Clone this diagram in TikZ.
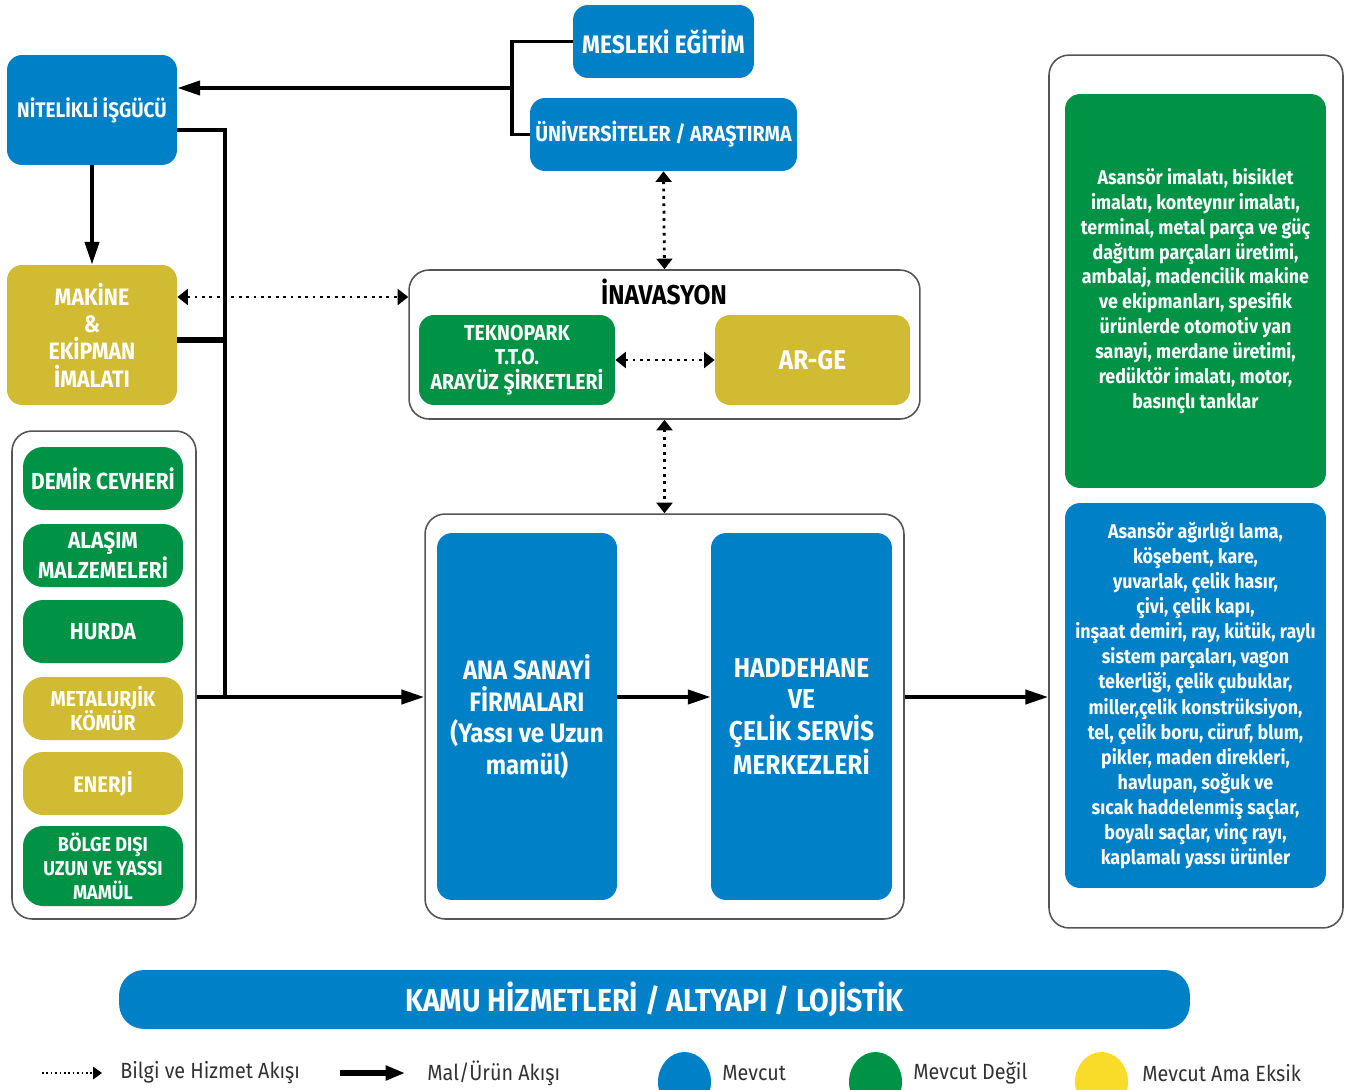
\documentclass[tikz,border=0pt]{standalone}
\usepackage{fontspec}
\setmainfont[FakeStretch=0.9]{Fira Sans}
\usetikzlibrary{arrows.meta,shapes.geometric}

\definecolor{mavi}{RGB}{0,128,198}
\definecolor{yesil}{RGB}{0,146,69}
\definecolor{hardal}{RGB}{209,187,50}
\definecolor{sari}{RGB}{249,220,42}
\definecolor{cerceve}{RGB}{85,85,85}
\definecolor{yazi}{RGB}{50,50,50}

\tikzset{
  kutu/.style={rounded corners=0.3cm, text=white, align=center, inner sep=0pt, font=\bfseries\fontsize{12}{15}\selectfont},
  mavikutu/.style={kutu, fill=mavi},
  yesilkutu/.style={kutu, fill=yesil},
  hardalkutu/.style={kutu, fill=hardal},
  cercevekutu/.style={draw=cerceve, line width=0.9pt, rounded corners=0.4cm, fill=white, inner sep=0pt},
  hap/.style={rounded corners=0.4cm, minimum width=3.2cm, minimum height=1.26cm, font=\bfseries\fontsize{13.2}{14.5}\selectfont},
  akis/.style={line width=2.2pt},
  mal/.style={akis, -{Triangle[length=13pt,width=8pt]}},
  bilgi/.style={line width=1.6pt, dash pattern=on 1.6pt off 2.6pt, {Triangle[length=6pt,width=9pt]}-{Triangle[length=6pt,width=9pt]}},
  lejant/.style={anchor=west, text=yazi, inner sep=0pt, font=\fontsize{12.5}{14}\selectfont},
}

\begin{document}
\begin{tikzpicture}[x=0.02cm, y=-0.02cm]
\useasboundingbox (0,0) rectangle (1346,1089);

% ust sol
\node[mavikutu, minimum width=3.4cm, minimum height=2.2cm] (nitelikli) at (92,110) {N\.{I}TEL\.{I}KL\.{I} \.{I}ŞGÜCÜ};
\node[hardalkutu, minimum width=3.4cm, minimum height=2.8cm, font=\bfseries\fontsize{13.5}{15.6}\selectfont] (makine) at (92,335) {MAK\.{I}NE\\\&\\EK\.{I}PMAN\\\.{I}MALATI};

% egitim
\node[mavikutu, minimum width=3.62cm, minimum height=1.46cm, font=\bfseries\fontsize{14.4}{16}\selectfont] (mesleki) at (663.5,41.5) {MESLEK\.{I} EĞ\.{I}T\.{I}M};
\node[mavikutu, minimum width=5.34cm, minimum height=1.46cm, font=\bfseries\fontsize{12.4}{15}\selectfont] (univ) at (663.5,134.5) {ÜN\.{I}VERS\.{I}TELER / ARAŞTIRMA};

% inovasyon
\node[cercevekutu, minimum width=10.22cm, minimum height=2.98cm] (inovasyon) at (664.5,344.5) {};
\node[text=black, font=\bfseries\fontsize{15.5}{17}\selectfont] (inovbaslik) at (664,292) {\.{I}NAVASYON};
\node[yesilkutu, minimum width=3.92cm, minimum height=1.8cm, font=\bfseries\fontsize{12.3}{14}\selectfont] (teknopark) at (517,360) {TEKNOPARK\\T.T.O.\\ARAYÜZ Ş\.{I}RKETLER\.{I}};
\node[hardalkutu, minimum width=3.9cm, minimum height=1.8cm, font=\bfseries\fontsize{15.4}{17}\selectfont] (arge) at (812.5,360) {AR-GE};

% girdiler
\node[cercevekutu, minimum width=3.68cm, minimum height=9.76cm] (solkutu) at (104,675) {};
\node[yesilkutu, hap] (demir) at (103,478.5) {DEM\.{I}R CEVHER\.{I}};
\node[yesilkutu, hap] (alasim) at (103,555.5) {ALAŞIM\\MALZEMELER\.{I}};
\node[yesilkutu, hap] (hurda) at (103,631.5) {HURDA};
\node[hardalkutu, hap, font=\bfseries\fontsize{12.3}{13.6}\selectfont] (komur) at (103,708.5) {METALURJ\.{I}K\\KÖMÜR};
\node[hardalkutu, hap, font=\bfseries\fontsize{12.8}{13.6}\selectfont] (enerji) at (103,783.5) {ENERJ\.{I}};
\node[yesilkutu, hap, minimum height=1.6cm, font=\bfseries\fontsize{11.4}{13.6}\selectfont] (bolgedisi) at (103,866) {BÖLGE DIŞI\\UZUN VE YASSI\\MAMÜL};

% sanayi
\node[cercevekutu, minimum width=9.58cm, minimum height=8.1cm] (ortakutu) at (664.5,716.5) {};
\node[mavikutu, minimum width=3.6cm, minimum height=7.34cm, font=\bfseries\fontsize{15.2}{18}\selectfont] (anasanayi) at (527,716.5) {ANA SANAY\.{I}\\F\.{I}RMALARI\\(Yassı ve Uzun\\mamül)};
\node[mavikutu, minimum width=3.62cm, minimum height=7.34cm, font=\bfseries\fontsize{15.5}{18}\selectfont] (haddehane) at (801.5,716.5) {HADDEHANE\\VE\\ÇEL\.{I}K SERV\.{I}S\\MERKEZLER\.{I}};

% urunler
\node[cercevekutu, minimum width=5.88cm, minimum height=17.46cm] (sagkutu) at (1196,491.5) {};
\node[yesilkutu, minimum width=5.22cm, minimum height=7.88cm, font=\bfseries\fontsize{11.3}{14.2}\selectfont] (yesilurun) at (1195.5,291) {Asansör imalatı, bisiklet\\imalatı, konteynır imalatı,\\terminal, metal parça ve güç\\dağıtım parçaları üretimi,\\ambalaj, madencilik makine\\ve ekipmanları, spesifik\\ürünlerde otomotiv yan\\sanayi, merdane üretimi,\\redüktör imalatı, motor,\\basınçlı tanklar};
\node[mavikutu, minimum width=5.22cm, minimum height=7.7cm, font=\bfseries\fontsize{11.3}{14.3}\selectfont] (maviurun) at (1195.5,695.5) {Asansör ağırlığı lama,\\köşebent, kare,\\yuvarlak, çelik hasır,\\çivi, çelik kapı,\\inşaat demiri, ray, kütük, raylı\\sistem parçaları, vagon\\tekerliği, çelik çubuklar,\\miller,çelik konstrüksiyon,\\tel, çelik boru, cüruf, blum,\\pikler, maden direkleri,\\havlupan, soğuk ve\\sıcak haddelenmiş saçlar,\\boyalı saçlar, vinç rayı,\\kaplamalı yassı ürünler};

% altyapi
\node[mavikutu, rounded corners=0.5cm, minimum width=21.42cm, minimum height=1.18cm, font=\bfseries\fontsize{18}{20}\selectfont] (kamu) at (654.5,999.5) {KAMU H\.{I}ZMETLER\.{I} / ALTYAPI / LOJ\.{I}ST\.{I}K};

% baglantilar
\coordinate (kol) at (512,88);
\coordinate (dugum) at (225,697);
\draw[akis] (mesleki.west) -| (kol) |- (univ.west);
\draw[mal] (kol) -- (kol -| nitelikli.east);
\draw[mal] (nitelikli.south) -- (makine.north);
\draw[akis] ([yshift=-0.4cm]nitelikli.east) -| (dugum);
\draw[line width=3.4pt] ([yshift=-0.1cm]makine.east) -- ([yshift=-0.1cm]makine.east -| dugum);
\draw[mal] (solkutu.east |- dugum) -- (ortakutu.west |- dugum);
\draw[mal] (anasanayi.east |- dugum) -- (haddehane.west |- dugum);
\draw[mal] (ortakutu.east |- dugum) -- (sagkutu.west |- dugum);
\draw[bilgi] ([yshift=0.76cm]makine.east) coordinate (m1) -- (m1 -| inovasyon.west);
\draw[bilgi] (univ.south) -- (inovasyon.north);
\draw[bilgi] (teknopark.east) -- (arge.west);
\draw[bilgi] (inovasyon.south) -- (ortakutu.north);

% lejant
\coordinate (lb1) at (42,1073);
\coordinate (lb2) at (102,1073);
\coordinate (lm1) at (340,1073);
\coordinate (lm2) at (405,1073);
\draw[line width=0.9pt, dash pattern=on 0.9pt off 1.6pt, -{Triangle[length=5pt,width=7pt]}] (lb1) -- (lb2);
\draw[line width=3pt, -{Triangle[length=11pt,width=8pt]}] (lm1) -- (lm2);
\node[lejant] (lbilgi) at (120,1073) {Bilgi ve Hizmet Akışı};
\node[lejant] (lmal) at (427,1073) {Mal/Ürün Akışı};
\node[ellipse, fill=mavi, minimum width=1.06cm, minimum height=1.2cm] (lmavi) at (684.5,1082) {};
\node[ellipse, fill=yesil, minimum width=1.06cm, minimum height=1.2cm] (lyesil) at (875.5,1082) {};
\node[ellipse, fill=sari, minimum width=1.06cm, minimum height=1.2cm] (lsari) at (1101.5,1082) {};
\node[lejant] (lmevcut) at (722,1073) {Mevcut};
\node[lejant] (ldegil) at (913,1073) {Mevcut Değil};
\node[lejant] (leksik) at (1142,1073) {Mevcut Ama Eksik};
\end{tikzpicture}
\end{document}
